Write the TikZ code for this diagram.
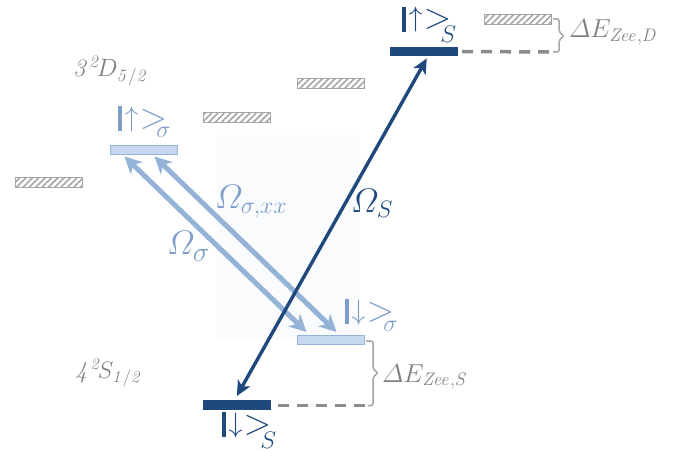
\RequirePackage{fix-cm}
\documentclass[tikz,border=0pt]{standalone}
\usepackage{amsmath}
\usetikzlibrary{arrows.meta,patterns.meta,calc}
\definecolor{dkblue}{HTML}{1F497D}
\definecolor{ltblue}{HTML}{95B3D7}
\definecolor{ltfill}{HTML}{C6D9F1}
\definecolor{lttext}{HTML}{7E9DC9}
\definecolor{gtext}{HTML}{7F7F7F}
\definecolor{hatchc}{HTML}{A5A5A5}
\definecolor{dashc}{HTML}{8C8C8C}
\definecolor{faint}{HTML}{FAFBFC}
% ket: #1 arrow, #2 label, #3 drop of label
\newcommand{\myket}[3]{\rule[-5pt]{3.5pt}{25pt}\hspace{3pt}$#1$\hspace{1pt}\raisebox{-2pt}{\scalebox{1.3}{$>$}}\hspace{-11pt}\raisebox{-#3}{\fontsize{24}{26}\selectfont$#2$}}
\tikzset{
  hatchbar/.style={draw=hatchc, line width=1pt, pattern={Lines[angle=45,distance=4.5pt,line width=1.6pt]}, pattern color=hatchc, minimum width=67pt, minimum height=10pt, inner sep=0pt},
  sbar/.style={fill=dkblue, draw=none, minimum width=68pt, minimum height=9.5pt, inner sep=0pt},
  gbar/.style={fill=ltfill, draw=ltblue, line width=1pt, minimum width=67pt, minimum height=9pt, inner sep=0pt},
  dashline/.style={draw=dashc, line width=3.5pt, dash pattern=on 11pt off 8pt},
  bracket/.style={draw=hatchc, line width=1.5pt, rounded corners=2pt},
  larrow/.style={draw=ltblue, line width=5pt, {Stealth[length=17pt,width=17pt,inset=5pt]}-{Stealth[length=17pt,width=17pt,inset=5pt]}},
  darrow/.style={draw=dkblue, line width=3.4pt, {Stealth[length=15pt,width=14pt,inset=4pt]}-{Stealth[length=15pt,width=14pt,inset=4pt]}},
  lbl/.style={inner sep=0pt, anchor=base west},
  ketlbl/.style={inner sep=0pt, anchor=base west, font=\fontsize{28}{32}\selectfont},
}
\begin{document}
\begin{tikzpicture}[x=1pt,y=-1pt]
\useasboundingbox (0,0) rectangle (686,452);
% faint background panel
\fill[faint] (217,135) rectangle (360,340);
% hatched levels
\node[hatchbar] (h1) at (49,182) {};
\node[hatchbar] (h2) at (236.5,117.5) {};
\node[hatchbar] (h3) at (330.5,84) {};
\node[hatchbar] (h4) at (518,20) {};
% levels
\node[sbar] (sU) at (424,51.5) {};
\node[sbar] (sL) at (237,405) {};
\node[gbar] (gU) at (143.5,150) {};
\node[gbar] (gL) at (330.5,340) {};
% brackets
\coordinate (bU) at (553,52);
\coordinate (bL) at (368,405.5);
\draw[bracket] (553,19) -- (559,19) -- (559,32) -- (564,36) -- (559,40) -- (559,52) -- (bU);
\draw[bracket] (366,341) -- (373,341) -- (373,369) -- (378,373) -- (373,377) -- (373,405.5) -- (bL);
% dashed lines
\draw[dashline] ($(sU.east)+(4,0)$) -- (bU);
\draw[dashline] ($(sL.east)+(7,0.5)$) -- (bL);
% arrows
\draw[larrow] ($(gU.south west)+(15,1.5)$) -- ($(gL.north west)+(10,-3)$);
\draw[larrow] ($(gU.south west)+(45,1.5)$) -- ($(gL.north west)+(40,-3)$);
\draw[darrow] ($(sL.north west)+(34,-4)$) -- ($(sU.south west)+(37,2)$);
% labels
\node[lbl, text=gtext, font=\fontsize{25}{28}\selectfont] (dlab) at (73,77) {$\mathit{3}^{\mathit{2}}\!D_{\mathit{5/2}}$};
\node[lbl, text=gtext, font=\fontsize{24}{28}\selectfont] (slab) at (75,378) {$\mathit{4}^{\mathit{2}}\!S_{\mathit{1/2}}$};
\node[lbl, text=gtext, font=\fontsize{26}{30}\selectfont] (ezs) at (382,382) {$\varDelta E_{\mathit{Zee,S}}$};
\node[lbl, text=gtext, font=\fontsize{26}{30}\selectfont] (ezd) at (569,38) {$\varDelta E_{\mathit{Zee,D}}$};
\node[lbl, text=lttext, font=\fontsize{34}{38}\selectfont] (oxx) at (215,208) {$\varOmega_{\sigma,xx}$};
\node[lbl, text=lttext, font=\fontsize{34}{38}\selectfont] (os) at (167,254) {$\varOmega_{\raisebox{-2pt}{\fontsize{28}{30}\selectfont$\sigma$}}$};
\node[lbl, text=dkblue, font=\fontsize{34}{38}\selectfont] (oS) at (351,212) {$\varOmega_{S}$};
\node[ketlbl, text=dkblue] (kuS) at (402,27) {\myket{\uparrow}{S}{16pt}};
\node[ketlbl, text=lttext] (kus) at (118,126) {\myket{\uparrow}{\sigma}{12pt}};
\node[ketlbl, text=lttext] (kds) at (345,319) {\myket{\downarrow}{\sigma}{12pt}};
\node[ketlbl, text=dkblue] (kdS) at (222,432) {\myket{\downarrow}{S}{16pt}};
\end{tikzpicture}
\end{document}
